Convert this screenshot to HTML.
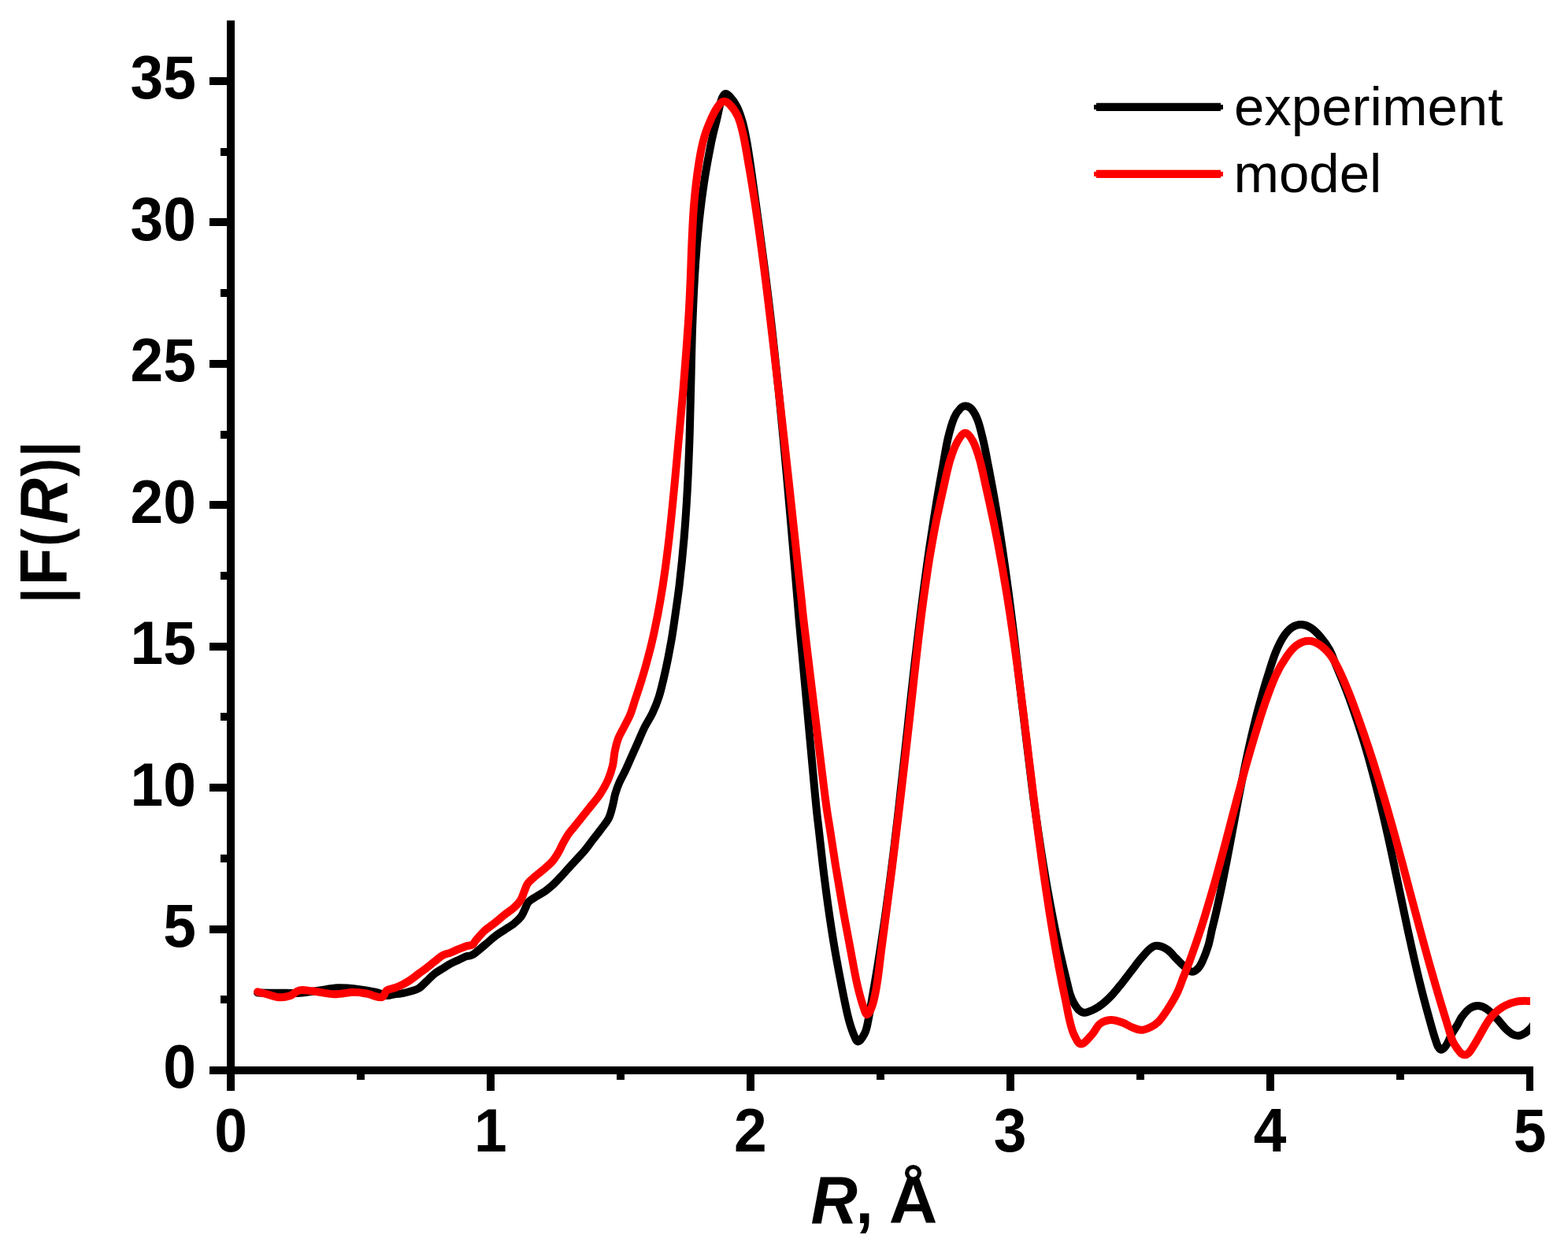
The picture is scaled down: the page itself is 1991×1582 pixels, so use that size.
<!DOCTYPE html>
<html lang="en"><head><meta charset="utf-8"><title>|F(R)| vs R</title>
<style>
html,body{margin:0;padding:0;background:#fff;}
body{width:1991px;height:1582px;overflow:hidden;}
svg{display:block;}
text{font-family:"Liberation Sans",sans-serif;fill:#000;}
.tk{font-size:75px;font-weight:bold;}
.lb{font-size:82.5px;font-weight:bold;}
.lg{font-size:69px;}
</style></head><body>
<svg width="1991" height="1582" viewBox="0 0 1991 1582">
<defs><clipPath id="cp"><rect x="300" y="20" width="1643.1" height="1336"/></clipPath></defs>
<rect width="1991" height="1582" fill="#fff"/>
<rect x="288.0" y="26" width="10" height="1338.0" fill="#000"/>
<rect x="266" y="1354.0" width="1681.0" height="10" fill="#000"/>
<rect x="266" y="1354" width="25" height="10" fill="#000"/>
<text transform="translate(249,1381.4) scale(1,1.035)" text-anchor="end" class="tk">0</text>
<rect x="266" y="1175" width="25" height="10" fill="#000"/>
<text transform="translate(249,1202.0) scale(1,1.035)" text-anchor="end" class="tk">5</text>
<rect x="266" y="995" width="25" height="10" fill="#000"/>
<text transform="translate(249,1022.5) scale(1,1.035)" text-anchor="end" class="tk">10</text>
<rect x="266" y="816" width="25" height="10" fill="#000"/>
<text transform="translate(249,843.1) scale(1,1.035)" text-anchor="end" class="tk">15</text>
<rect x="266" y="636" width="25" height="10" fill="#000"/>
<text transform="translate(249,663.7) scale(1,1.035)" text-anchor="end" class="tk">20</text>
<rect x="266" y="457" width="25" height="10" fill="#000"/>
<text transform="translate(249,484.2) scale(1,1.035)" text-anchor="end" class="tk">25</text>
<rect x="266" y="277" width="25" height="10" fill="#000"/>
<text transform="translate(249,304.8) scale(1,1.035)" text-anchor="end" class="tk">30</text>
<rect x="266" y="98" width="25" height="10" fill="#000"/>
<text transform="translate(249,125.4) scale(1,1.035)" text-anchor="end" class="tk">35</text>
<rect x="280" y="1264" width="12" height="10" fill="#000"/>
<rect x="280" y="1085" width="12" height="10" fill="#000"/>
<rect x="280" y="905" width="12" height="10" fill="#000"/>
<rect x="280" y="726" width="12" height="10" fill="#000"/>
<rect x="280" y="547" width="12" height="10" fill="#000"/>
<rect x="280" y="367" width="12" height="10" fill="#000"/>
<rect x="280" y="188" width="12" height="10" fill="#000"/>
<rect x="288" y="1359" width="10" height="26" fill="#000"/>
<text transform="translate(293.0,1462.3) scale(1,1.035)" text-anchor="middle" class="tk">0</text>
<rect x="618" y="1359" width="10" height="26" fill="#000"/>
<text transform="translate(622.9,1462.3) scale(1,1.035)" text-anchor="middle" class="tk">1</text>
<rect x="948" y="1359" width="10" height="26" fill="#000"/>
<text transform="translate(952.8,1462.3) scale(1,1.035)" text-anchor="middle" class="tk">2</text>
<rect x="1278" y="1359" width="10" height="26" fill="#000"/>
<text transform="translate(1282.7,1462.3) scale(1,1.035)" text-anchor="middle" class="tk">3</text>
<rect x="1608" y="1359" width="10" height="26" fill="#000"/>
<text transform="translate(1612.6,1462.3) scale(1,1.035)" text-anchor="middle" class="tk">4</text>
<rect x="1938" y="1359" width="9" height="26" fill="#000"/>
<text transform="translate(1942.5,1462.3) scale(1,1.035)" text-anchor="middle" class="tk">5</text>
<rect x="453" y="1359" width="10" height="12" fill="#000"/>
<rect x="783" y="1359" width="10" height="12" fill="#000"/>
<rect x="1113" y="1359" width="10" height="12" fill="#000"/>
<rect x="1443" y="1359" width="10" height="12" fill="#000"/>
<rect x="1773" y="1359" width="10" height="12" fill="#000"/>
<text class="lb"><tspan x="1029.46" y="1553.00" font-size="85.80" textLength="59.30" lengthAdjust="spacingAndGlyphs" font-style="italic">R</tspan><tspan x="1086.44" y="1553.00" font-size="82.50" textLength="22.33" lengthAdjust="spacingAndGlyphs">,</tspan><tspan x="1106" y="1553" font-size="40"> </tspan><tspan x="1128.87" y="1553.00" font-size="84.15" textLength="61.68" lengthAdjust="spacingAndGlyphs">Å</tspan></text>
<text transform="translate(85.1,0) rotate(-90)" class="lb"><tspan x="-765.84" y="-0.90" font-size="80.48" textLength="19.25" lengthAdjust="spacingAndGlyphs">|</tspan><tspan x="-743.03" y="0.00" font-size="85.80" textLength="46.84" lengthAdjust="spacingAndGlyphs">F</tspan><tspan x="-693.72" y="-0.90" font-size="80.48" textLength="22.89" lengthAdjust="spacingAndGlyphs">(</tspan><tspan x="-665.52" y="0.00" font-size="85.80" textLength="58.27" lengthAdjust="spacingAndGlyphs" font-style="italic">R</tspan><tspan x="-605.07" y="-0.90" font-size="80.48" textLength="23.13" lengthAdjust="spacingAndGlyphs">)</tspan><tspan x="-580.00" y="-0.90" font-size="80.48" textLength="19.46" lengthAdjust="spacingAndGlyphs">|</tspan></text>
<g clip-path="url(#cp)" fill="none" stroke-width="10" stroke-linejoin="round" stroke-linecap="round">
<path d="M327.1,1260.5 C331.6,1260.5 345.3,1260.7 354.2,1260.7 C363.1,1260.7 372.0,1261.2 380.4,1260.7 C388.8,1260.2 396.5,1258.8 404.5,1257.7 C412.5,1256.6 420.6,1254.6 428.6,1254.3 C436.6,1254.0 444.7,1254.8 452.7,1255.7 C460.7,1256.6 470.4,1258.3 476.8,1259.7 C483.2,1261.1 486.9,1263.6 491.0,1264.0 C495.1,1264.4 497.8,1262.7 501.2,1262.2 C504.6,1261.7 507.9,1261.8 511.3,1261.2 C514.7,1260.6 518.0,1259.6 521.4,1258.6 C524.8,1257.6 528.1,1257.2 531.5,1255.1 C534.9,1253.0 538.2,1249.1 541.6,1246.0 C545.0,1242.9 548.3,1239.1 551.7,1236.4 C555.1,1233.7 558.5,1231.9 561.9,1229.8 C565.3,1227.7 568.6,1225.5 572.0,1223.7 C575.4,1221.9 578.7,1220.5 582.1,1218.9 C585.5,1217.3 589.2,1215.2 592.2,1214.1 C595.2,1213.0 596.1,1214.6 600.0,1212.3 C603.9,1210.0 610.6,1203.9 615.4,1200.0 C620.2,1196.1 624.4,1191.9 628.6,1188.7 C632.8,1185.5 636.7,1183.3 640.7,1180.6 C644.7,1177.9 649.3,1175.4 652.8,1172.5 C656.3,1169.6 659.5,1166.6 661.9,1163.4 C664.3,1160.2 665.5,1156.3 667.0,1153.3 C668.5,1150.3 668.6,1147.7 671.0,1145.2 C673.4,1142.7 677.8,1140.3 681.2,1138.1 C684.6,1135.9 687.9,1134.4 691.3,1132.1 C694.7,1129.8 698.0,1127.0 701.4,1124.0 C704.8,1121.0 708.1,1117.3 711.5,1113.8 C714.9,1110.2 718.2,1106.4 721.6,1102.7 C725.0,1099.0 728.3,1095.3 731.7,1091.6 C735.1,1087.9 738.5,1084.5 741.9,1080.5 C745.3,1076.5 748.6,1071.7 752.0,1067.3 C755.4,1062.9 758.6,1059.0 762.1,1054.2 C765.6,1049.4 770.4,1044.0 773.0,1038.7 C775.6,1033.4 776.6,1027.7 778.0,1022.6 C779.4,1017.5 779.8,1013.1 781.1,1008.4 C782.5,1003.7 783.9,999.3 786.1,994.2 C788.3,989.1 791.5,983.7 794.2,978.0 C796.9,972.3 799.6,965.9 802.3,959.8 C805.0,953.7 807.7,947.7 810.4,941.6 C813.1,935.5 815.5,929.5 818.5,923.4 C821.5,917.3 825.6,911.6 828.6,905.2 C831.6,898.8 834.3,892.1 836.6,885.0 C838.9,877.9 840.6,870.1 842.4,862.7 C844.2,855.3 845.9,847.6 847.3,840.5 C848.8,833.4 849.9,827.0 851.2,820.2 C852.4,813.5 852.7,812.9 854.6,800.0 C856.5,787.1 860.2,762.6 862.6,743.0 C864.9,723.4 867.0,702.5 868.7,682.3 C870.4,662.1 871.7,641.8 872.8,621.6 C873.9,601.4 874.8,577.8 875.4,560.9 C876.0,544.0 876.2,534.0 876.5,520.5 C876.9,507.0 877.0,498.6 877.5,480.0 C877.9,461.4 878.4,433.2 879.4,408.7 C880.3,384.2 881.8,353.9 883.2,332.8 C884.6,311.7 885.8,299.2 887.6,282.3 C889.4,265.4 891.5,248.6 894.0,231.7 C896.6,214.8 900.4,194.6 903.1,181.1 C905.8,167.6 908.2,159.7 910.3,150.8 C912.3,142.0 913.9,133.3 915.6,128.0 C917.3,122.7 918.8,120.0 920.7,119.2 C922.6,118.4 924.5,120.3 927.0,123.0 C929.5,125.7 933.1,130.1 935.8,135.6 C938.5,141.1 941.0,148.3 943.1,155.9 C945.2,163.5 946.7,171.4 948.5,181.1 C950.2,190.8 951.7,201.3 953.6,214.0 C955.4,226.7 957.4,241.4 959.6,257.0 C961.8,272.6 964.3,290.8 966.5,307.6 C968.8,324.5 971.0,341.2 973.1,358.1 C975.2,375.0 976.9,388.4 979.2,408.7 C981.5,429.0 985.0,461.4 987.0,480.0 C989.0,498.6 989.8,507.0 991.1,520.5 C992.4,534.0 993.7,547.4 995.0,560.9 C996.3,574.4 997.5,587.9 998.7,601.4 C999.9,614.9 1001.1,628.4 1002.3,641.9 C1003.5,655.4 1004.7,668.8 1005.8,682.3 C1007.0,695.8 1008.1,709.3 1009.3,722.8 C1010.4,736.3 1011.6,750.4 1012.7,763.3 C1013.8,776.2 1012.3,760.5 1015.8,800.0 C1019.4,839.5 1030.2,958.2 1034.1,1000.0 C1038.0,1041.8 1037.5,1033.8 1039.4,1050.6 C1041.2,1067.4 1043.1,1084.2 1045.1,1101.1 C1047.2,1117.9 1049.3,1134.8 1051.7,1151.7 C1054.1,1168.6 1056.6,1185.5 1059.5,1202.3 C1062.3,1219.1 1066.0,1238.0 1068.8,1252.8 C1071.7,1267.5 1074.3,1280.7 1076.8,1290.8 C1079.3,1300.9 1081.8,1308.2 1084.0,1313.5 C1086.2,1318.8 1087.4,1322.7 1089.8,1322.4 C1092.2,1322.1 1096.1,1315.8 1098.2,1311.5 C1100.3,1307.2 1100.6,1304.7 1102.3,1296.3 C1104.0,1287.9 1106.4,1273.5 1108.5,1260.9 C1110.7,1248.3 1113.2,1234.0 1115.3,1220.5 C1117.5,1207.0 1120.0,1189.8 1121.5,1180.0 C1123.0,1170.2 1122.8,1171.2 1124.2,1161.4 C1125.6,1151.6 1127.9,1134.4 1129.7,1120.9 C1131.5,1107.4 1133.1,1094.0 1134.8,1080.5 C1136.4,1067.0 1138.0,1053.2 1139.6,1040.0 C1141.1,1026.8 1142.5,1014.6 1143.9,1001.4 C1145.4,988.2 1146.9,974.4 1148.4,960.9 C1149.9,947.4 1151.3,934.0 1152.8,920.5 C1154.2,907.0 1155.7,893.2 1157.2,880.0 C1158.7,866.8 1160.0,854.6 1161.5,841.4 C1163.0,828.2 1164.7,814.4 1166.3,800.9 C1167.9,787.4 1169.6,774.0 1171.3,760.5 C1173.0,747.0 1175.1,731.4 1176.7,720.0 C1178.2,708.6 1178.7,705.4 1180.6,692.4 C1182.6,679.4 1185.7,658.8 1188.5,641.9 C1191.2,625.0 1194.7,605.5 1197.3,591.3 C1199.8,577.1 1201.3,567.0 1203.6,556.9 C1206.0,546.8 1208.8,537.0 1211.5,530.6 C1214.2,524.2 1217.2,520.9 1219.6,518.4 C1222.0,515.9 1223.7,515.2 1226.1,515.4 C1228.5,515.6 1231.2,516.3 1233.8,519.5 C1236.4,522.7 1239.4,527.7 1241.9,534.6 C1244.4,541.5 1246.6,551.5 1248.8,560.9 C1251.0,570.3 1252.6,579.5 1254.9,591.3 C1257.2,603.1 1260.0,618.2 1262.4,631.7 C1264.8,645.2 1266.8,657.5 1269.1,672.2 C1271.4,686.9 1274.1,705.3 1276.2,720.0 C1278.3,734.7 1279.9,747.0 1281.7,760.5 C1283.4,774.0 1285.1,787.4 1286.8,800.9 C1288.4,814.4 1290.1,828.2 1291.6,841.4 C1293.2,854.6 1292.9,853.6 1296.1,880.0 C1299.3,906.4 1307.3,973.2 1310.6,1000.0 C1314.0,1026.8 1314.2,1027.0 1316.1,1040.5 C1318.0,1054.0 1320.0,1067.4 1322.1,1080.9 C1324.2,1094.4 1326.5,1108.2 1328.7,1121.4 C1331.0,1134.6 1333.9,1149.8 1335.8,1160.0 C1337.7,1170.2 1338.8,1175.2 1340.3,1182.8 C1341.9,1190.4 1343.5,1197.9 1345.1,1205.5 C1346.8,1213.1 1348.5,1220.7 1350.3,1228.3 C1352.1,1235.9 1354.4,1245.3 1355.8,1251.0 C1357.2,1256.7 1357.4,1258.6 1358.7,1262.4 C1360.0,1266.2 1361.8,1270.5 1363.7,1273.8 C1365.6,1277.1 1367.7,1280.5 1370.0,1282.5 C1372.3,1284.5 1373.9,1286.1 1377.4,1285.8 C1380.9,1285.5 1386.8,1282.8 1391.0,1280.6 C1395.2,1278.4 1398.6,1275.8 1402.4,1272.6 C1406.2,1269.4 1410.0,1265.5 1413.8,1261.3 C1417.6,1257.1 1421.3,1252.3 1425.1,1247.6 C1428.9,1242.8 1432.7,1237.7 1436.5,1232.8 C1440.3,1227.9 1444.1,1222.5 1447.9,1218.0 C1451.7,1213.5 1455.9,1208.4 1459.3,1205.5 C1462.7,1202.6 1464.6,1200.8 1468.4,1200.8 C1472.2,1200.8 1477.8,1202.8 1482.0,1205.5 C1486.2,1208.2 1490.0,1213.5 1493.4,1216.9 C1496.8,1220.3 1499.3,1223.2 1502.6,1226.0 C1505.9,1228.8 1510.0,1233.1 1513.1,1233.7 C1516.2,1234.3 1518.9,1231.7 1521.2,1229.5 C1523.5,1227.3 1524.5,1225.5 1526.7,1220.7 C1528.9,1215.9 1532.2,1207.2 1534.3,1200.5 C1536.3,1193.8 1537.4,1187.0 1538.9,1180.2 C1540.5,1173.5 1541.5,1169.9 1543.8,1160.0 C1546.0,1150.1 1549.5,1134.2 1552.2,1120.9 C1554.9,1107.7 1557.5,1094.0 1560.1,1080.5 C1562.7,1067.0 1565.3,1052.9 1567.7,1040.0 C1570.1,1027.1 1571.8,1017.6 1574.7,1003.0 C1577.6,988.4 1581.7,967.6 1585.1,952.4 C1588.4,937.2 1591.6,923.8 1594.6,912.0 C1597.5,900.2 1600.0,891.4 1602.8,881.6 C1605.5,871.8 1608.5,862.1 1611.3,853.3 C1614.1,844.5 1616.5,836.4 1619.5,829.0 C1622.5,821.6 1626.0,814.2 1629.5,808.8 C1633.0,803.4 1636.8,799.3 1640.5,796.7 C1644.2,794.1 1647.8,793.0 1651.7,793.0 C1655.6,793.0 1659.9,794.2 1663.9,796.7 C1668.0,799.2 1672.0,803.1 1676.0,807.8 C1680.0,812.5 1684.7,818.8 1688.2,825.0 C1691.7,831.2 1693.5,837.5 1696.7,845.2 C1699.9,853.0 1704.0,862.3 1707.6,871.5 C1711.2,880.7 1714.3,888.9 1718.3,900.5 C1722.3,912.1 1727.4,927.4 1731.5,940.9 C1735.6,954.4 1739.5,968.2 1743.0,981.4 C1746.6,994.6 1749.6,1006.9 1752.8,1020.0 C1756.0,1033.1 1759.1,1046.7 1762.0,1060.0 C1765.0,1073.3 1767.1,1083.2 1770.6,1100.0 C1774.2,1116.8 1780.6,1147.6 1783.4,1160.9 C1786.2,1174.2 1785.3,1170.1 1787.4,1180.0 C1789.6,1189.9 1793.3,1207.0 1796.4,1220.5 C1799.5,1234.0 1802.7,1247.4 1806.2,1260.9 C1809.6,1274.4 1814.3,1291.3 1817.1,1301.4 C1819.9,1311.5 1821.6,1316.9 1823.2,1321.6 C1824.7,1326.2 1825.1,1327.4 1826.2,1329.3 C1827.3,1331.2 1828.5,1332.6 1829.8,1332.8 C1831.1,1333.0 1832.5,1331.8 1834.0,1330.3 C1835.5,1328.8 1836.9,1326.5 1838.5,1323.5 C1840.1,1320.5 1841.5,1316.2 1843.5,1312.5 C1845.5,1308.8 1848.4,1304.9 1850.5,1301.4 C1852.6,1297.9 1853.5,1294.8 1856.1,1291.3 C1858.7,1287.8 1862.5,1282.9 1866.0,1280.5 C1869.5,1278.1 1873.6,1276.9 1877.3,1277.1 C1881.0,1277.3 1884.4,1278.6 1888.4,1281.5 C1892.5,1284.4 1897.7,1290.2 1901.6,1294.3 C1905.5,1298.4 1908.6,1302.9 1911.7,1306.0 C1914.8,1309.1 1917.3,1311.3 1920.0,1312.8 C1922.7,1314.3 1925.2,1315.1 1927.9,1315.0 C1930.6,1314.9 1933.5,1313.5 1936.0,1312.0 C1938.5,1310.5 1941.3,1307.8 1943.1,1306.0 C1944.9,1304.2 1946.3,1301.8 1947.0,1301.0" stroke="#000"/>
<path d="M327.1,1259.3 C329.3,1259.9 335.7,1261.5 340.2,1262.7 C344.7,1263.9 349.5,1266.0 354.2,1266.3 C358.9,1266.6 363.9,1265.8 368.3,1264.3 C372.7,1262.8 375.7,1258.3 380.4,1257.3 C385.1,1256.3 389.0,1257.5 396.4,1258.3 C403.8,1259.1 415.9,1262.1 424.6,1262.3 C433.3,1262.5 441.8,1259.8 448.7,1259.7 C455.6,1259.6 459.8,1260.6 465.8,1261.7 C471.8,1262.8 480.3,1266.9 484.5,1266.2 C488.7,1265.5 488.2,1259.5 491.0,1257.5 C493.8,1255.5 497.8,1255.5 501.2,1254.3 C504.6,1253.0 507.9,1251.7 511.3,1250.0 C514.7,1248.3 518.0,1246.3 521.4,1244.0 C524.8,1241.7 528.1,1238.9 531.5,1236.4 C534.9,1233.9 538.2,1231.6 541.6,1229.0 C545.0,1226.4 548.3,1223.6 551.7,1220.9 C555.1,1218.2 558.5,1215.0 561.9,1213.1 C565.3,1211.2 568.6,1210.9 572.0,1209.6 C575.4,1208.3 578.7,1206.6 582.1,1205.2 C585.5,1203.8 589.2,1202.2 592.2,1201.2 C595.2,1200.2 598.0,1200.7 600.0,1199.5 C602.0,1198.3 601.7,1196.8 604.3,1193.8 C606.9,1190.8 611.3,1185.3 615.4,1181.6 C619.5,1177.9 624.4,1174.9 628.6,1171.5 C632.8,1168.1 636.7,1164.6 640.7,1161.4 C644.7,1158.2 649.4,1155.3 652.8,1152.3 C656.2,1149.3 658.7,1146.8 660.9,1143.2 C663.1,1139.7 664.5,1134.5 666.0,1131.0 C667.5,1127.5 668.1,1124.6 670.0,1121.9 C671.9,1119.2 673.9,1117.8 677.1,1114.9 C680.3,1112.0 685.2,1108.2 689.3,1104.7 C693.3,1101.2 698.0,1097.5 701.4,1093.6 C704.8,1089.7 707.3,1085.2 709.5,1081.5 C711.7,1077.8 712.5,1075.1 714.5,1071.4 C716.5,1067.7 719.1,1062.9 721.6,1059.2 C724.1,1055.5 725.4,1054.5 729.7,1049.1 C734.1,1043.7 742.3,1033.4 747.7,1026.6 C753.1,1019.8 757.9,1014.5 761.9,1008.4 C765.9,1002.3 769.3,996.3 772.0,990.2 C774.7,984.1 776.5,978.1 778.0,972.0 C779.5,965.9 779.5,959.5 780.7,953.8 C781.9,948.1 783.2,942.7 785.1,937.6 C787.0,932.5 789.7,928.5 792.2,923.4 C794.7,918.3 798.0,912.9 800.3,907.2 C802.6,901.5 804.1,895.7 806.3,889.0 C808.5,882.3 811.3,874.2 813.6,866.8 C815.9,859.4 818.2,851.9 820.2,844.5 C822.3,837.1 824.2,829.7 826.1,822.3 C827.9,814.9 829.2,809.8 831.2,800.0 C833.3,790.2 836.1,776.2 838.3,763.3 C840.6,750.4 842.8,736.3 844.6,722.8 C846.5,709.3 848.1,695.8 849.7,682.3 C851.2,668.8 852.6,655.4 853.9,641.9 C855.3,628.4 856.5,614.9 857.8,601.4 C859.0,587.9 860.3,574.4 861.5,560.9 C862.8,547.4 864.0,534.0 865.2,520.5 C866.4,507.0 867.3,498.6 868.7,480.0 C870.2,461.4 872.7,429.0 874.0,408.7 C875.3,388.4 875.9,375.0 876.6,358.1 C877.4,341.2 877.7,324.5 878.5,307.6 C879.3,290.8 879.9,273.9 881.4,257.0 C882.9,240.1 885.3,220.3 887.5,206.4 C889.6,192.5 891.6,183.3 894.4,173.6 C897.2,163.9 901.1,155.1 904.2,148.3 C907.3,141.6 910.6,136.3 913.1,133.1 C915.6,129.8 917.1,128.8 919.4,128.8 C921.7,128.8 924.0,129.8 927.0,133.1 C930.0,136.3 934.2,141.6 937.1,148.3 C940.0,155.1 941.9,162.7 944.3,173.6 C946.6,184.5 949.1,200.1 951.5,214.0 C953.9,227.9 956.1,241.4 958.5,257.0 C960.9,272.6 963.5,290.8 965.8,307.6 C968.1,324.5 970.3,341.2 972.4,358.1 C974.5,375.0 976.1,388.4 978.5,408.7 C980.9,429.0 984.7,461.4 986.8,480.0 C989.0,498.6 989.9,507.0 991.5,520.5 C993.0,534.0 994.5,547.4 996.0,560.9 C997.5,574.4 999.0,587.9 1000.5,601.4 C1002.0,614.9 1003.4,628.4 1004.9,641.9 C1006.3,655.4 1007.8,668.8 1009.2,682.3 C1010.7,695.8 1012.1,709.3 1013.5,722.8 C1015.0,736.3 1016.5,750.4 1017.9,763.3 C1019.3,776.2 1017.2,760.5 1021.9,800.0 C1026.6,839.5 1041.0,958.2 1046.2,1000.0 C1051.5,1041.8 1051.0,1033.8 1053.5,1050.6 C1056.0,1067.4 1058.6,1084.2 1061.3,1101.1 C1064.1,1117.9 1066.9,1134.8 1069.9,1151.7 C1072.9,1168.6 1076.3,1186.3 1079.3,1202.3 C1082.3,1218.3 1085.3,1235.6 1088.0,1247.8 C1090.7,1260.0 1093.2,1268.9 1095.4,1275.6 C1097.6,1282.3 1099.1,1288.2 1101.2,1288.2 C1103.3,1288.2 1105.9,1282.3 1108.0,1275.6 C1110.1,1268.9 1111.9,1260.0 1113.8,1247.8 C1115.8,1235.6 1117.5,1218.3 1119.6,1202.3 C1121.7,1186.3 1124.1,1168.6 1126.3,1151.7 C1128.5,1134.8 1130.6,1117.9 1132.8,1101.1 C1134.9,1084.2 1136.9,1067.4 1138.9,1050.6 C1141.0,1033.8 1142.4,1021.7 1145.0,1000.0 C1147.5,978.3 1151.8,940.5 1154.1,920.5 C1156.3,900.5 1157.1,893.2 1158.6,880.0 C1160.0,866.8 1161.3,854.6 1162.8,841.4 C1164.3,828.2 1165.9,814.4 1167.5,800.9 C1169.2,787.4 1170.8,774.0 1172.7,760.5 C1174.5,747.0 1177.1,729.6 1178.5,720.0 C1180.0,710.4 1179.6,712.2 1181.3,702.6 C1183.0,693.0 1186.0,675.6 1188.7,662.1 C1191.4,648.6 1194.6,634.4 1197.5,621.6 C1200.4,608.8 1203.1,595.3 1206.1,585.2 C1209.1,575.1 1212.3,566.8 1215.6,560.9 C1218.9,555.0 1222.3,549.8 1225.7,549.8 C1229.1,549.8 1232.7,555.0 1235.8,560.9 C1238.9,566.8 1241.6,575.1 1244.4,585.2 C1247.2,595.3 1249.8,608.8 1252.7,621.6 C1255.6,634.4 1259.1,650.7 1261.5,662.1 C1263.9,673.5 1265.2,680.4 1267.1,690.0 C1268.9,699.6 1270.5,708.2 1272.6,720.0 C1274.6,731.8 1277.2,747.0 1279.4,760.5 C1281.6,774.0 1283.6,787.4 1285.5,800.9 C1287.5,814.4 1289.4,828.2 1291.2,841.4 C1293.0,854.6 1294.6,866.8 1296.3,880.0 C1298.0,893.2 1299.7,907.0 1301.3,920.5 C1303.0,934.0 1304.6,947.6 1306.2,960.9 C1307.8,974.1 1309.4,986.7 1311.0,1000.0 C1312.6,1013.3 1314.3,1027.0 1316.0,1040.5 C1317.7,1054.0 1319.5,1067.4 1321.3,1080.9 C1323.1,1094.4 1325.0,1108.2 1327.0,1121.4 C1328.9,1134.6 1331.2,1149.8 1332.8,1160.0 C1334.4,1170.2 1335.3,1175.2 1336.5,1182.8 C1337.8,1190.4 1339.1,1197.9 1340.4,1205.5 C1341.8,1213.1 1343.2,1220.7 1344.6,1228.3 C1346.1,1235.9 1347.5,1243.4 1349.0,1251.0 C1350.6,1258.6 1352.2,1266.2 1353.8,1273.8 C1355.3,1281.4 1356.7,1289.9 1358.4,1296.5 C1360.0,1303.1 1361.3,1308.8 1363.7,1313.6 C1366.1,1318.4 1369.0,1325.6 1372.8,1325.6 C1376.6,1325.6 1382.5,1317.9 1386.5,1313.6 C1390.5,1309.3 1392.7,1303.0 1396.7,1299.9 C1400.7,1296.8 1405.7,1295.3 1410.4,1295.0 C1415.1,1294.7 1420.8,1296.7 1425.1,1298.2 C1429.4,1299.7 1432.5,1302.3 1436.5,1303.9 C1440.5,1305.5 1444.8,1307.8 1449.0,1307.8 C1453.2,1307.8 1457.7,1305.8 1461.5,1303.9 C1465.3,1302.0 1468.1,1300.3 1471.6,1296.6 C1475.1,1292.8 1478.9,1287.3 1482.7,1281.4 C1486.5,1275.5 1491.1,1268.0 1494.4,1261.2 C1497.7,1254.5 1499.9,1247.7 1502.5,1240.9 C1505.2,1234.2 1507.9,1227.4 1510.4,1220.7 C1512.9,1214.0 1515.3,1207.2 1517.6,1200.5 C1520.0,1193.8 1522.3,1186.8 1524.5,1180.2 C1526.6,1173.6 1527.6,1170.6 1530.6,1160.7 C1533.6,1150.8 1538.5,1134.3 1542.3,1120.9 C1546.1,1107.5 1549.7,1094.0 1553.3,1080.5 C1556.9,1067.0 1561.0,1051.2 1563.9,1040.0 C1566.9,1028.8 1568.0,1024.3 1571.0,1013.1 C1574.0,1001.9 1578.2,986.2 1582.0,972.7 C1585.8,959.2 1589.7,945.7 1593.8,932.2 C1597.9,918.7 1602.4,904.2 1606.7,891.7 C1611.1,879.2 1615.5,867.2 1620.0,857.4 C1624.5,847.6 1629.5,839.5 1634.0,833.1 C1638.5,826.7 1642.3,822.1 1647.0,818.9 C1651.7,815.7 1657.1,813.8 1661.9,813.8 C1666.7,813.8 1671.3,815.7 1676.0,818.9 C1680.7,822.1 1686.0,827.5 1690.2,833.1 C1694.4,838.7 1697.4,844.9 1701.0,852.3 C1704.6,859.7 1708.7,869.6 1712.0,877.6 C1715.3,885.6 1716.9,890.0 1720.7,900.5 C1724.5,911.0 1730.4,927.4 1734.9,940.9 C1739.5,954.4 1743.9,968.2 1748.0,981.4 C1752.1,994.6 1755.7,1006.9 1759.6,1020.0 C1763.4,1033.1 1767.2,1046.7 1770.9,1060.0 C1774.5,1073.3 1777.2,1083.2 1781.7,1100.0 C1786.2,1116.8 1794.3,1147.6 1797.9,1160.9 C1801.4,1174.2 1800.3,1170.1 1803.0,1180.0 C1805.7,1189.9 1810.3,1207.0 1814.1,1220.5 C1817.9,1234.0 1821.7,1247.4 1825.7,1260.9 C1829.7,1274.4 1834.9,1291.3 1838.0,1301.4 C1841.1,1311.5 1842.3,1316.4 1844.5,1321.6 C1846.7,1326.8 1849.4,1329.8 1851.2,1332.5 C1853.0,1335.2 1854.0,1336.5 1855.5,1337.6 C1857.0,1338.7 1858.5,1339.3 1860.0,1339.3 C1861.5,1339.3 1863.1,1338.6 1864.5,1337.4 C1865.9,1336.2 1866.8,1334.6 1868.6,1332.0 C1870.3,1329.4 1872.0,1326.7 1875.0,1321.6 C1878.0,1316.5 1883.4,1306.5 1886.5,1301.4 C1889.6,1296.4 1891.0,1294.3 1893.5,1291.3 C1896.0,1288.3 1898.6,1285.7 1901.6,1283.2 C1904.6,1280.8 1907.5,1278.6 1911.7,1276.6 C1915.9,1274.6 1921.7,1272.4 1926.9,1271.4 C1932.1,1270.5 1939.8,1271.0 1943.1,1270.9 C1946.4,1270.8 1946.3,1270.9 1947.0,1270.9" stroke="#f00"/>
</g>
<path d="M1392,135.9H1550" stroke="#000" stroke-width="10.2" fill="none"/><path d="M1389,135.9H1553" stroke="#000" stroke-width="6" fill="none"/>
<path d="M1392,220.9H1550" stroke="#f00" stroke-width="10.2" fill="none"/><path d="M1389,220.9H1553" stroke="#f00" stroke-width="6" fill="none"/>
<text x="1567" y="159" class="lg">experiment</text>
<text x="1566.5" y="243.6" class="lg">model</text>
</svg>
</body></html>
